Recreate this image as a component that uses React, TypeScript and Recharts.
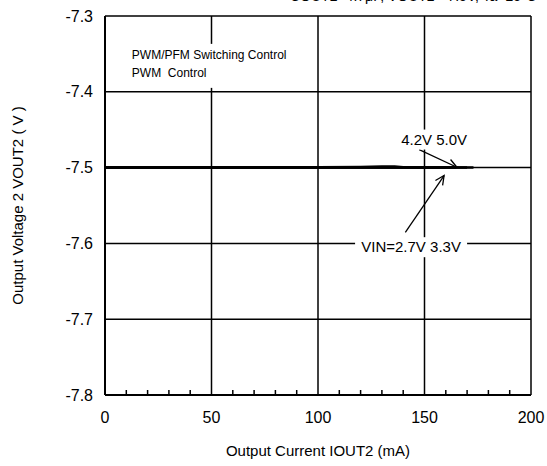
import { LineChart, Line, XAxis, YAxis, CartesianGrid, ReferenceLine, ReferenceDot, Label } from 'recharts';

// Output current (mA) sample points
const CURRENT_MA = [0, 20, 40, 60, 80, 100, 120, 130, 136, 140, 150, 160, 165, 170, 173];
// Output voltage VOUT2 (V) per input voltage
const VIN_27 = [-7.5, -7.5, -7.5, -7.5, -7.5, -7.5, -7.5, -7.5, -7.5, -7.5, -7.5, -7.5, null, null, null];
const VIN_33 = [-7.5, -7.5, -7.5, -7.5, -7.5, -7.5, -7.5, -7.5, -7.5, -7.5, -7.5, -7.5, -7.5, null, null];
const VIN_42 = [-7.5, -7.5, -7.5, -7.5, -7.5, -7.5, -7.4997, -7.4995, -7.4994, -7.4997, -7.5, -7.5, -7.5, -7.5, null];
const VIN_50 = [-7.4999, -7.4999, -7.4999, -7.4998, -7.4998, -7.4997, -7.4993, -7.4987, -7.4985, -7.4995, -7.4999, -7.5, -7.5, -7.5, -7.5];

const X_TICKS = [0, 10, 20, 30, 40, 50, 60, 70, 80, 90, 100, 110, 120, 130, 140, 150, 160, 170, 180, 190, 200];
const Y_TICKS = [-7.8, -7.7, -7.6, -7.5, -7.4, -7.3];

const data = CURRENT_MA.map((i, k) => ({
  i,
  v27: VIN_27[k],
  v33: VIN_33[k],
  v42: VIN_42[k],
  v50: VIN_50[k],
}));

const FONT = '"Liberation Sans", Arial, sans-serif';

function XTick({ x, y, payload }: any) {
  const v = payload.value;
  if (v % 50 === 0) {
    return (
      <text x={x} y={y} dy={28} textAnchor="middle" fontSize={16} fill="#000" fontFamily={FONT}>
        {v}
      </text>
    );
  }
  return <line x1={x} x2={x} y1={y} y2={y - 5} stroke="#000" strokeWidth={1.5} />;
}

function Arrow(props: any) {
  const { x1, y1, x2, y2 } = props;
  const a = Math.atan2(y2 - y1, x2 - x1);
  const len = 10;
  const spread = 0.45;
  const ax = x2 - len * Math.cos(a - spread);
  const ay = y2 - len * Math.sin(a - spread);
  const bx = x2 - len * Math.cos(a + spread);
  const by = y2 - len * Math.sin(a + spread);
  return (
    <g stroke="#000" strokeWidth={1.3} fill="none">
      <line x1={x1} y1={y1} x2={x2} y2={y2} />
      <polyline points={`${ax},${ay} ${x2},${y2} ${bx},${by}`} />
    </g>
  );
}

function TextTag(text: string, width: number) {
  return ({ cx, cy }: any) => (
    <g>
      <rect x={cx - width / 2} y={cy - 10} width={width} height={20} fill="#fff" />
      <text x={cx} y={cy} dy={5} textAnchor="middle" fontSize={15} fill="#000" fontFamily={FONT}>
        {text}
      </text>
    </g>
  );
}

function ModeBox({ cx, cy }: any) {
  return (
    <g>
      <rect x={cx - 4} y={cy - 22} width={172} height={44} fill="#fff" />
      <text x={cx} y={cy - 7} fontSize={12} fill="#000" fontFamily={FONT}>
        PWM/PFM Switching Control
      </text>
      <text x={cx} y={cy + 11} fontSize={12} fill="#000" fontFamily={FONT} style={{ whiteSpace: 'pre' }}>
        {'PWM  Control'}
      </text>
    </g>
  );
}

export default function App() {
  return (
    <div style={{ position: 'absolute', left: 0, top: 0, width: 547, height: 466, background: '#fff', overflow: 'hidden', fontFamily: FONT }}>
      <div style={{ position: 'absolute', left: 290, top: -12, fontSize: 14, whiteSpace: 'nowrap', color: '#000' }}>
        COUT2=4.7μF, VOUT2=-7.5V, Ta=25°C
      </div>
      <LineChart width={547} height={466} data={data} margin={{ top: 16, right: 16, bottom: 0, left: 0 }}>
        <CartesianGrid stroke="#000" strokeWidth={1.5} horizontalValues={Y_TICKS} verticalValues={[0, 50, 100, 150, 200]} />
        <XAxis
          dataKey="i"
          type="number"
          domain={[0, 200]}
          ticks={X_TICKS}
          interval={0}
          tickLine={false}
          tickSize={0}
          tickMargin={0}
          tick={<XTick />}
          axisLine={{ stroke: '#000', strokeWidth: 2 }}
          height={71}
        >
          <Label
            content={({ viewBox }: any) => (
              <text x={viewBox.x + viewBox.width / 2} y={456} textAnchor="middle" fontSize={15} fill="#000" fontFamily={FONT}>
                Output Current IOUT2 (mA)
              </text>
            )}
          />
        </XAxis>
        <YAxis
          type="number"
          domain={[-7.8, -7.3]}
          ticks={Y_TICKS}
          interval={0}
          width={105}
          tickLine={false}
          tickSize={0}
          tickMargin={12}
          tickFormatter={(v: number) => v.toFixed(1)}
          tick={{ fontSize: 16, fill: '#000', fontFamily: FONT }}
          axisLine={{ stroke: '#000', strokeWidth: 2 }}
        >
          <Label
            content={({ viewBox }: any) => {
              const cy = viewBox.y + viewBox.height / 2;
              return (
                <text x={23} y={cy} transform={`rotate(-90 23 ${cy})`} textAnchor="middle" fontSize={15} fill="#000" fontFamily={FONT}>
                  Output Voltage 2 VOUT2 ( V )
                </text>
              );
            }}
          />
        </YAxis>
        <Line dataKey="v27" stroke="#000" strokeWidth={2.5} dot={false} isAnimationActive={false} />
        <Line dataKey="v33" stroke="#000" strokeWidth={2.5} dot={false} isAnimationActive={false} />
        <Line dataKey="v42" stroke="#000" strokeWidth={2.5} dot={false} isAnimationActive={false} />
        <Line dataKey="v50" stroke="#000" strokeWidth={2.5} dot={false} isAnimationActive={false} />
        <ReferenceLine segment={[{ x: 147.5, y: -7.4763 }, { x: 165.2, y: -7.4995 }]} shape={Arrow} />
        <ReferenceLine segment={[{ x: 141, y: -7.5855 }, { x: 159.2, y: -7.5105 }]} shape={Arrow} />
        <ReferenceDot x={154.5} y={-7.463} r={0} shape={TextTag('4.2V 5.0V', 70)} />
        <ReferenceDot x={143.7} y={-7.605} r={0} shape={TextTag('VIN=2.7V 3.3V', 112)} />
        <ReferenceDot x={12.6} y={-7.3658} r={0} shape={ModeBox} />
      </LineChart>
    </div>
  );
}
